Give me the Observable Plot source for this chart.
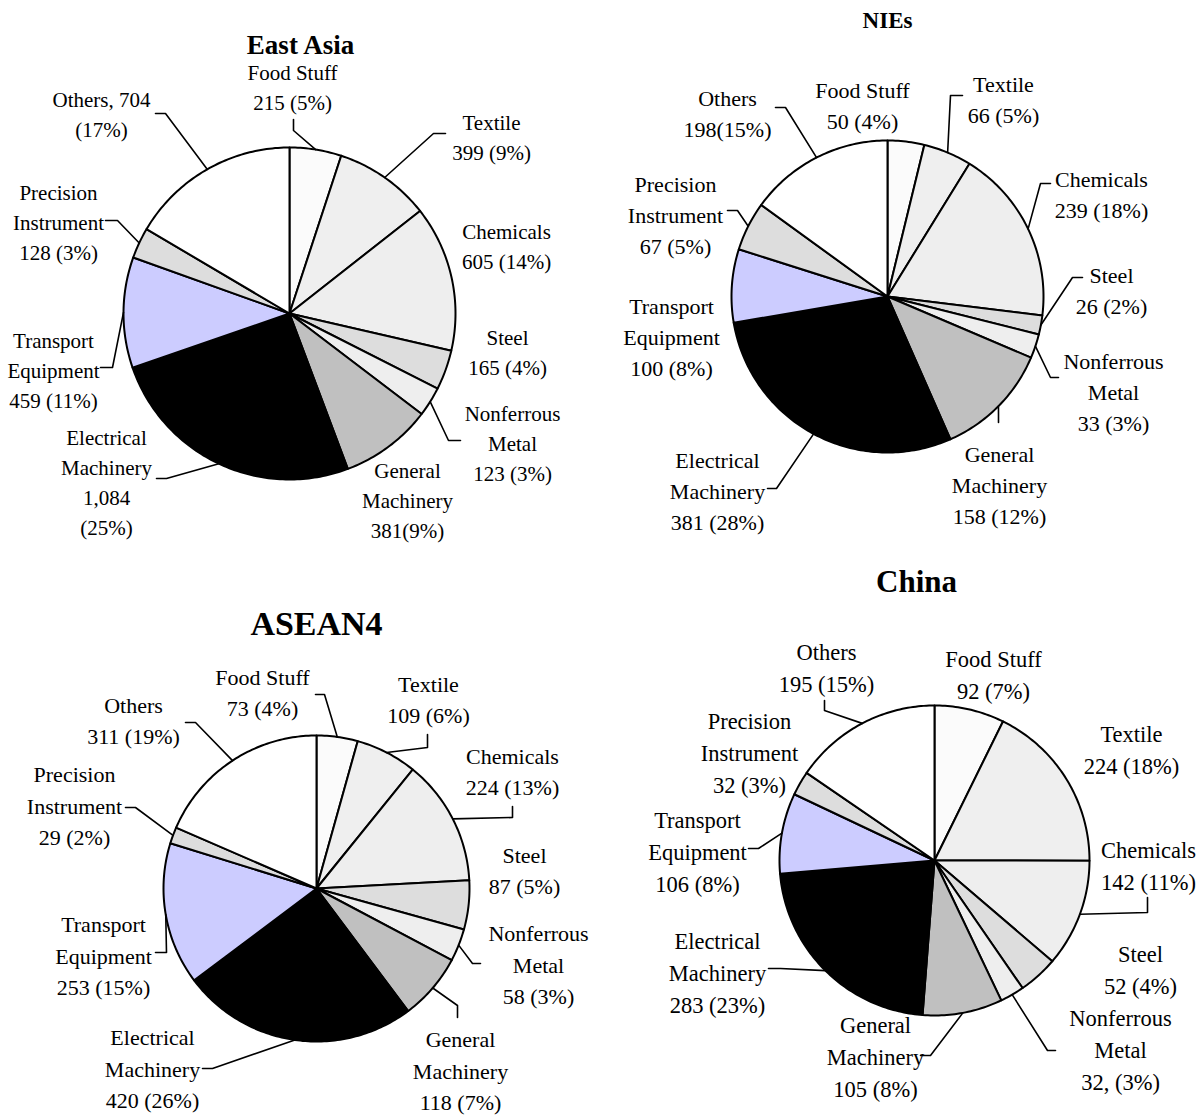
<!DOCTYPE html>
<html>
<head>
<meta charset="utf-8">
<script src="https://cdn.jsdelivr.net/npm/d3@7"></script>
<script src="https://cdn.jsdelivr.net/npm/@observablehq/plot@0.6"></script>
<style>
  html, body { margin: 0; padding: 0; background: #ffffff; }
  #chart svg { display: block; }
</style>
</head>
<body>
<div id="chart"></div>
<script>
// ---------- DATA ----------
const categories = ["Food Stuff", "Textile", "Chemicals", "Steel", "Nonferrous Metal",
  "General Machinery", "Electrical Machinery", "Transport Equipment", "Precision Instrument", "Others"];

const regionNames = ["East Asia", "NIEs", "ASEAN4", "China"];

const eastAsiaValues = [215, 399, 605, 165, 123, 381, 1084, 459, 128, 704];
const niesValues     = [50, 66, 239, 26, 33, 158, 381, 100, 67, 198];
const asean4Values   = [73, 109, 224, 87, 58, 118, 420, 253, 29, 311];
const chinaValues    = [92, 224, 142, 52, 32, 105, 283, 106, 32, 195];

const eastAsiaLabels = ["Food Stuff\n215 (5%)", "Textile\n399 (9%)", "Chemicals\n605 (14%)", "Steel\n165 (4%)",
  "Nonferrous\nMetal\n123 (3%)", "General\nMachinery\n381(9%)", "Electrical\nMachinery\n1,084\n(25%)",
  "Transport\nEquipment\n459 (11%)", "Precision\nInstrument\n128 (3%)", "Others, 704\n(17%)"];
const niesLabels = ["Food Stuff\n50 (4%)", "Textile\n66 (5%)", "Chemicals\n239 (18%)", "Steel\n26 (2%)",
  "Nonferrous\nMetal\n33 (3%)", "General\nMachinery\n158 (12%)", "Electrical\nMachinery\n381 (28%)",
  "Transport\nEquipment\n100 (8%)", "Precision\nInstrument\n67 (5%)", "Others\n198(15%)"];
const asean4Labels = ["Food Stuff\n73 (4%)", "Textile\n109 (6%)", "Chemicals\n224 (13%)", "Steel\n87 (5%)",
  "Nonferrous\nMetal\n58 (3%)", "General\nMachinery\n118 (7%)", "Electrical\nMachinery\n420 (26%)",
  "Transport\nEquipment\n253 (15%)", "Precision\nInstrument\n29 (2%)", "Others\n311 (19%)"];
const chinaLabels = ["Food Stuff\n92 (7%)", "Textile\n224 (18%)", "Chemicals\n142 (11%)", "Steel\n52 (4%)",
  "Nonferrous\nMetal\n32, (3%)", "General\nMachinery\n105 (8%)", "Electrical\nMachinery\n283 (23%)",
  "Transport\nEquipment\n106 (8%)", "Precision\nInstrument\n32 (3%)", "Others\n195 (15%)"];

// ---------- STYLES ----------
const sliceColors = ["#fbfbfb", "#efefef", "#eeeeee", "#dddddd", "#eeeeee",
  "#c0c0c0", "#000000", "#ccccff", "#dddddd", "#ffffff"];

// ---------- LAYOUT ----------
const layouts = [
  { // East Asia
    cx: 289, cy: 313, r: 166, font: 21, lh: 30 / 21,
    title: [300, 45], titleSize: 27,
    labels: [[292, 88], [491, 137.5], [506, 246.5], [507, 352.5], [512, 444], [407, 501],
             [106, 482.5], [53, 371], [58, 223], [101, 115]],
    leaders: [[0, [[293, 119], [293, 130]]], [1, [[445, 133], [433, 133]]], [4, [[460, 440], [448, 440]]],
              [6, [[156, 478], [166, 478]]], [7, [[100, 367], [112, 367]]], [8, [[105, 220], [117, 220]]],
              [9, [[155, 113], [165, 113]]]]
  },
  { // NIEs
    cx: 887, cy: 296, r: 156, font: 22, lh: 31 / 22,
    title: [887, 20], titleSize: 23,
    labels: [[862, 106], [1003, 100], [1101, 195], [1111, 291], [1113, 393], [999, 486],
             [717, 492], [671, 338], [675, 216], [727, 114.5]],
    leaders: [[1, [[962, 95], [950, 95]]], [2, [[1050, 183], [1040, 183]]], [3, [[1082, 277], [1072, 277]]],
              [4, [[1058, 377], [1050, 377]]], [5, [[998, 422], [998, 414]]], [6, [[767, 488], [776, 488]]],
              [8, [[727, 210], [737, 210]]], [9, [[775, 107], [785, 107]]]]
  },
  { // ASEAN4
    cx: 316, cy: 888, r: 153, font: 22, lh: 31.5 / 22,
    title: [316, 624], titleSize: 34,
    labels: [[262, 693], [428, 700], [512, 772], [524, 871], [538, 965], [460, 1071],
             [152, 1069], [103, 956], [74, 806], [133, 721]],
    leaders: [[0, [[315, 694], [324, 694]]], [1, [[427, 734], [427, 747]]], [2, [[512, 806], [512, 817]]],
              [4, [[480, 963], [472, 963]]], [5, [[457, 1017], [457, 1005]]], [6, [[202, 1068], [212, 1068]]],
              [7, [[155, 952], [166, 952]]], [8, [[125, 807], [135, 807]]], [9, [[185, 722], [195, 722]]]]
  },
  { // China
    cx: 934, cy: 860, r: 155, font: 22.5, lh: 32 / 22.5,
    title: [916, 582], titleSize: 31,
    labels: [[993, 675], [1131, 750], [1148, 866], [1140, 970], [1120, 1050], [875, 1057],
             [717, 973], [697, 852], [749, 753], [826, 668]],
    leaders: [[2, [[1147, 897], [1147, 912]]], [4, [[1055, 1050], [1047, 1050]]], [5, [[920, 1055], [930, 1055]]],
              [6, [[768, 968], [780, 968]]], [7, [[748, 848], [758, 848]]], [9, [[824, 700], [824, 710]]]]
  }
];

const valuesByRegion = [eastAsiaValues, niesValues, asean4Values, chinaValues];
const labelsByRegion = [eastAsiaLabels, niesLabels, asean4Labels, chinaLabels];

// ---------- BUILD MARK DATA ----------
const slicePoints = [];
const leaderPoints = [];
const textMarks = [];

valuesByRegion.forEach((values, ri) => {
  const L = layouts[ri];
  const arcs = d3.pie().sort(null).value(d => d)(values);
  arcs.forEach((a, i) => {
    const key = ri + "-" + i;
    const color = sliceColors[i];
    slicePoints.push({key, x: L.cx, y: L.cy, color});
    const n = Math.max(2, Math.ceil((a.endAngle - a.startAngle) / (Math.PI / 180)));
    for (let k = 0; k <= n; ++k) {
      const t = a.startAngle + (a.endAngle - a.startAngle) * k / n;
      slicePoints.push({key, x: L.cx + L.r * Math.sin(t), y: L.cy - L.r * Math.cos(t), color});
    }
  });
  L.leaders.forEach(([i, pts]) => {
    const a = arcs[i];
    const m = (a.startAngle + a.endAngle) / 2;
    const id = ri + "-L" + i;
    pts.forEach(([x, y]) => leaderPoints.push({id, x, y}));
    leaderPoints.push({id, x: L.cx + L.r * Math.sin(m), y: L.cy - L.r * Math.cos(m)});
  });
  const rows = labelsByRegion[ri].map((text, i) => ({text, category: categories[i], x: L.labels[i][0], y: L.labels[i][1]}));
  textMarks.push(Plot.text(rows, {
    x: "x", y: "y", text: "text", fontFamily: "Liberation Serif", fontSize: L.font,
    lineHeight: L.lh, textAnchor: "middle", lineAnchor: "middle", fill: "black", dy: -3
  }));
  textMarks.push(Plot.text([{name: regionNames[ri], x: L.title[0], y: L.title[1]}], {
    x: "x", y: "y", text: "name", fontFamily: "Liberation Serif", fontSize: L.titleSize,
    fontWeight: "bold", textAnchor: "middle", lineAnchor: "middle", fill: "black"
  }));
});

const W = 1204, H = 1117;
const chart = Plot.plot({
  width: W, height: H,
  margin: 0,
  style: {background: "#ffffff"},
  x: {domain: [0, W], range: [0, W], axis: null},
  y: {domain: [0, H], range: [0, H], axis: null},
  color: {type: "identity"},
  marks: [
    Plot.line(slicePoints, {x: "x", y: "y", z: "key", fill: "color", stroke: "black",
      strokeWidth: 2, strokeLinejoin: "round", curve: "linear-closed"}),
    Plot.line(leaderPoints, {x: "x", y: "y", z: "id", stroke: "black", strokeWidth: 1.6}),
    ...textMarks
  ]
});
document.getElementById("chart").appendChild(chart);
</script>
</body>
</html>
